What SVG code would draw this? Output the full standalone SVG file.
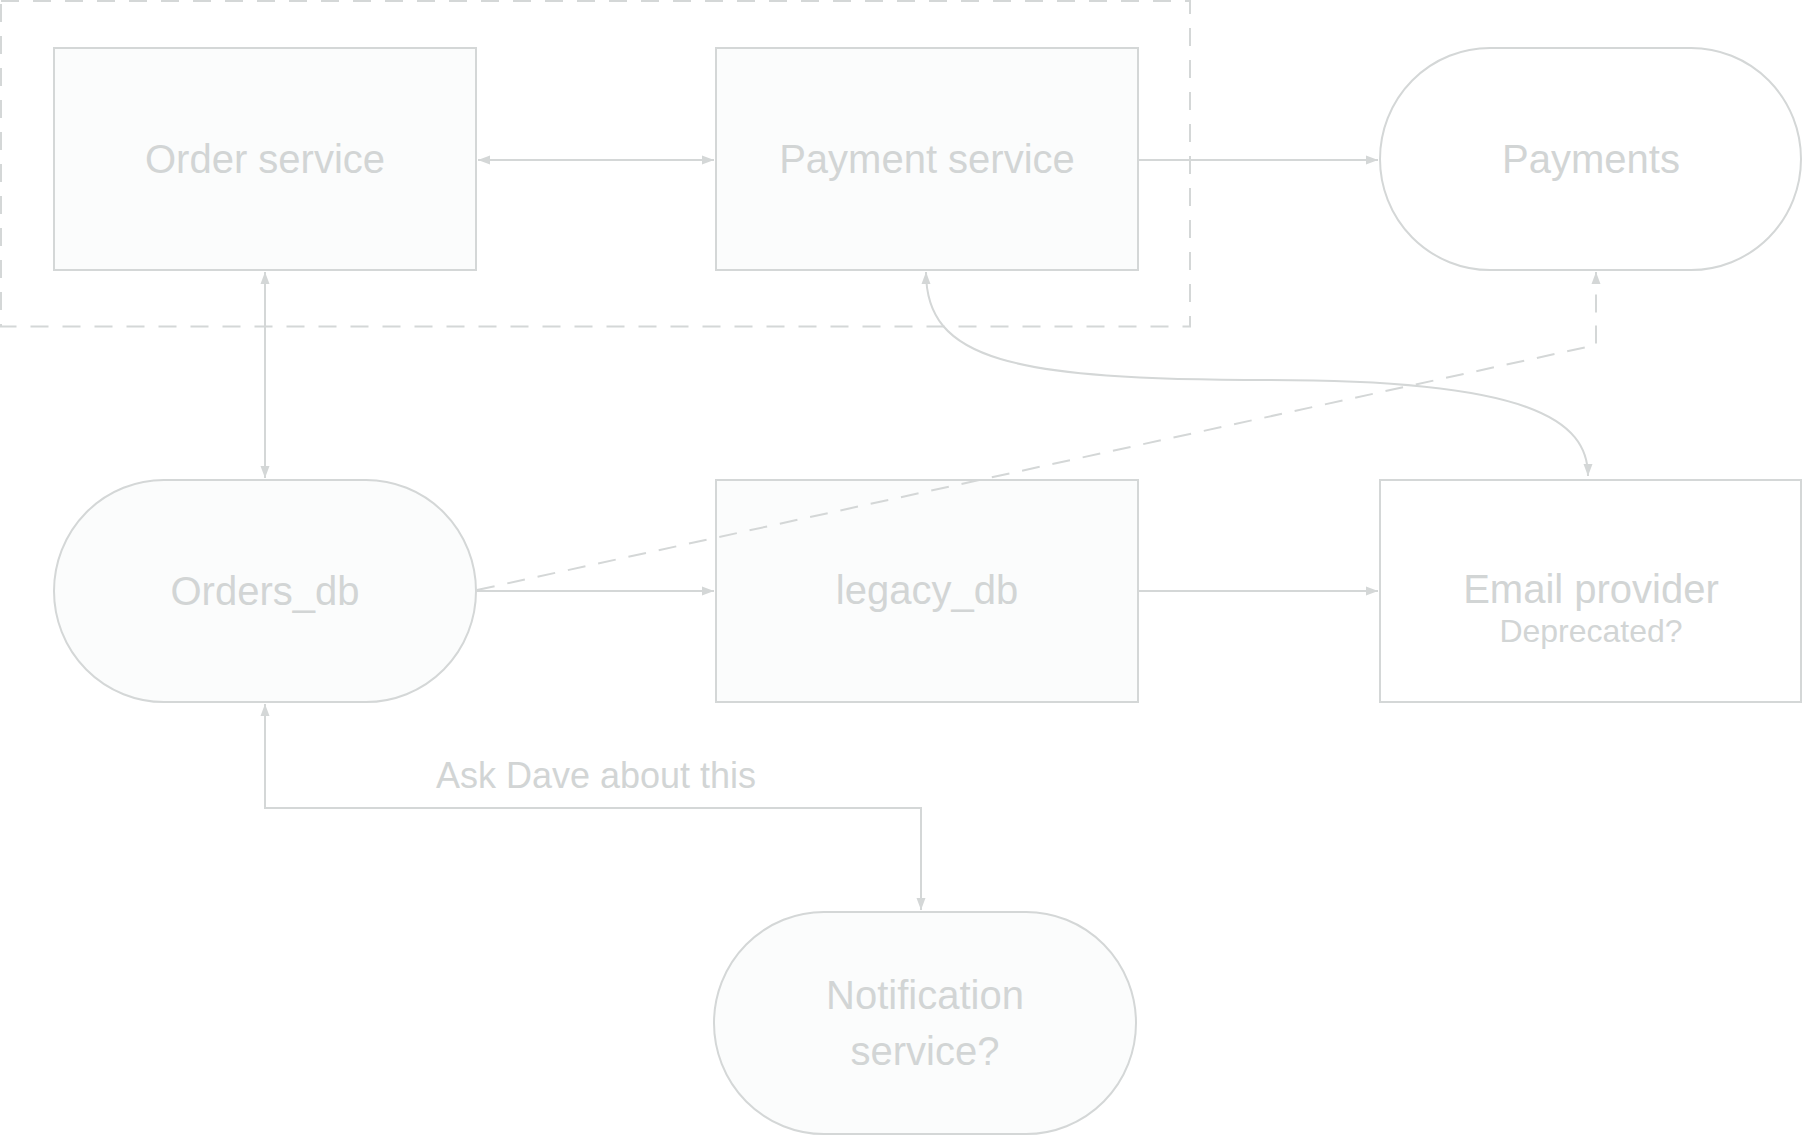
<svg xmlns="http://www.w3.org/2000/svg" width="1803" height="1136" viewBox="0 0 1803 1136">
<style>
.node{fill:#fbfcfc;stroke:#d4d7d7;stroke-width:2}
.white{fill:#ffffff}
.lbl{font-family:"Liberation Sans",Arial,sans-serif;font-size:40px;fill:#d2d5d5;text-anchor:middle}
.sub{font-size:32px}
.edge{fill:none;stroke:#d4d7d7;stroke-width:2}
.dash{stroke-dasharray:18 13}
.group{fill:none;stroke:#d4d7d7;stroke-width:2;stroke-dasharray:18 14}
</style>
<defs>
<marker id="arr" markerUnits="userSpaceOnUse" markerWidth="13" markerHeight="11" viewBox="0 0 13 11" refX="12" refY="5.5" orient="auto-start-reverse">
<path d="M0,1 L12,5.5 L0,10 z" fill="#d4d7d7"/>
</marker>
</defs>
<rect width="1803" height="1136" fill="#ffffff"/>
<g id="group-services">
<rect class="group" x="1" y="1" width="1189" height="325.5"/>
</g>
<g id="order-service">
<rect class="node" x="54" y="48" width="422" height="222"/>
<text class="lbl" x="265" y="173">Order service</text>
</g>
<g id="payment-service">
<rect class="node" x="716" y="48" width="422" height="222"/>
<text class="lbl" x="927" y="173">Payment service</text>
</g>
<g id="payments">
<rect class="node white" x="1380" y="48" width="421" height="222" rx="110" ry="111"/>
<text class="lbl" x="1591" y="173">Payments</text>
</g>
<g id="orders-db">
<rect class="node" x="54" y="480" width="422" height="222" rx="110" ry="111"/>
<text class="lbl" x="265" y="605">Orders_db</text>
</g>
<g id="legacy-db">
<rect class="node" x="716" y="480" width="422" height="222"/>
<text class="lbl" x="927" y="604">legacy_db</text>
</g>
<g id="email-provider">
<rect class="node white" x="1380" y="480" width="421" height="222"/>
<text class="lbl" x="1591" y="603">Email provider</text>
<text class="lbl sub" x="1591" y="642">Deprecated?</text>
</g>
<g id="notification-service">
<rect class="node" x="714" y="912" width="422" height="222" rx="110" ry="111"/>
<text class="lbl" x="925" y="1009">Notification</text>
<text class="lbl" x="925" y="1065">service?</text>
</g>
<g id="connectors">
<line class="edge" x1="478" y1="160" x2="714" y2="160" marker-start="url(#arr)" marker-end="url(#arr)"/>
<line class="edge" x1="1139" y1="160" x2="1378" y2="160" marker-end="url(#arr)"/>
<line class="edge" x1="265" y1="272" x2="265" y2="478" marker-start="url(#arr)" marker-end="url(#arr)"/>
<line class="edge" x1="477" y1="591" x2="714" y2="591" marker-end="url(#arr)"/>
<line class="edge" x1="1139" y1="591" x2="1378" y2="591" marker-end="url(#arr)"/>
<path class="edge dash" d="M477,590 L1596,345 L1596,272" marker-end="url(#arr)"/>
<path class="edge" d="M926,272 C926,360 1010,380 1270,380 C1530,380 1588,420 1588,476" marker-start="url(#arr)" marker-end="url(#arr)"/>
<path class="edge" d="M265,704 V808 H921 V910" marker-start="url(#arr)" marker-end="url(#arr)"/>
<text class="lbl" x="596" y="788" style="font-size:36px">Ask Dave about this</text>
</g>
</svg>
